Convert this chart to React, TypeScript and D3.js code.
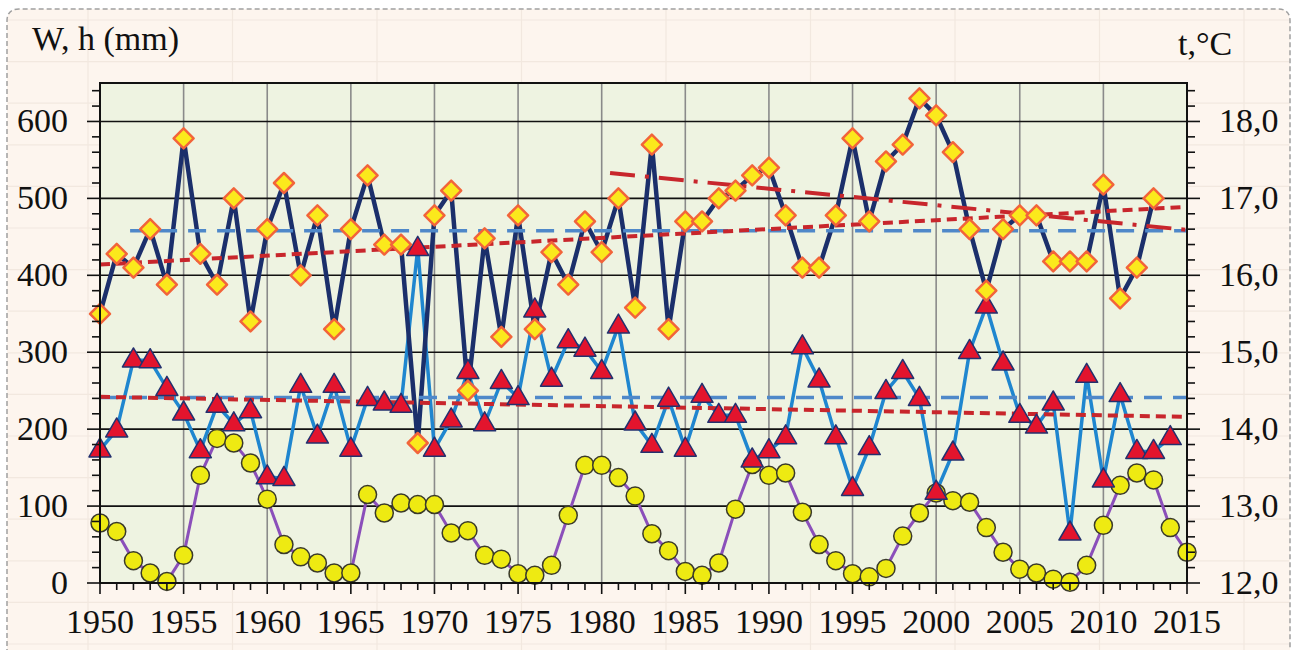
import React from "react";
import { scaleLinear, line, range } from "d3";

// years 1950..2015
const years = range(1950, 2016);

// W (mm), diamonds, 1950-2013
const wValues = [
  350, 428, 410, 460, 388, 578, 428, 388, 500, 340,
  460, 520, 400, 478, 330, 460, 530, 440, 440, 182,
  478, 510, 250, 448, 320, 478, 330, 430, 388, 470,
  430, 500, 358, 570, 330, 470, 470, 500, 510, 530,
  540, 478, 410, 410, 478, 578, 470, 548, 570, 630,
  608, 560, 460, 380, 460, 478, 478, 418, 418, 418,
  518, 370, 410, 500,
];

// h (mm), triangles, 1950-2014
const hValues = [
  173, 199, 290, 289, 253, 221, 172, 231, 207, 224,
  138, 136, 257, 191, 257, 174, 240, 234, 231, 435,
  174, 212, 275, 207, 262, 241, 355, 265, 315, 304,
  275, 334, 208, 179, 239, 174, 244, 218, 218, 160,
  172, 190, 307, 264, 190, 123, 176, 249, 275, 240,
  118, 169, 301, 360, 286, 218, 204, 234, 65, 270,
  134, 245, 171, 171, 189,
];

// t (°C), circles, 1950-2015
const tValues = [
  12.78, 12.67, 12.29, 12.13, 12.02, 12.36, 13.40, 13.88, 13.82, 13.56,
  13.09, 12.50, 12.34, 12.26, 12.13, 12.13, 13.15, 12.91, 13.04, 13.02,
  13.02, 12.65, 12.68, 12.36, 12.31, 12.12, 12.10, 12.23, 12.88, 13.53,
  13.53, 13.37, 13.13, 12.64, 12.42, 12.15, 12.10, 12.26, 12.96, 13.54,
  13.40, 13.43, 12.92, 12.50, 12.29, 12.12, 12.08, 12.19, 12.61, 12.91,
  13.17, 13.07, 13.05, 12.72, 12.40, 12.18, 12.13, 12.05, 12.01, 12.23,
  12.75, 13.27, 13.43, 13.34, 12.72, 12.40,
];

// trend / mean lines: [year, value] pairs
const wMean = [[1951.8, 458], [2015, 458]];
const wTrend = [[1950, 414], [2015, 489]];
const wTrend2 = [[1980.5, 533], [2015, 459]];
const hMean = [[1950, 241], [2015, 241]];
const hTrend = [[1950, 242], [2015, 216]];

const leftTicks = [0, 100, 200, 300, 400, 500, 600];
const rightTicks = [12, 13, 14, 15, 16, 17, 18];
const xTicks = [1950, 1955, 1960, 1965, 1970, 1975, 1980, 1985, 1990, 1995, 2000, 2005, 2010, 2015];

const W = 1293;
const H = 650;
const left = 100;
const right = 1187;
const top = 83;
const bottom = 583;

const font = "'Liberation Serif', 'Times New Roman', serif";

const App = () => {
  const x = scaleLinear().domain([1950, 2015]).range([left, right]);
  const y = scaleLinear().domain([0, 650]).range([bottom, top]);
  const yR = scaleLinear().domain([12, 18.5]).range([bottom, top]);

  const lineW = line<number>().x((_, i) => x(years[i])).y((d) => y(d));
  const lineT = line<number>().x((_, i) => x(years[i])).y((d) => yR(d));
  const seg = line<number[]>().x((d) => x(d[0])).y((d) => y(d[1]));

  // spreadsheet cell lines behind the chart
  const cellCols = range(0, 10).map((i) => 88 + i * 144.5);
  const cellRows = range(0, 16).map((i) => 20 + i * 41.6);

  const minorLeft = range(0, 660, 20);
  const minorRight = range(12, 18.5, 0.2);

  return (
    <svg
      width={W}
      height={H}
      style={{ position: "absolute", left: 0, top: 0, display: "block" }}
      fontFamily={font}
    >
      <rect width={W} height={H} fill="#ffffff" />
      <path
        d={`M7,${H + 20} V21 Q7,9 19,9 H1278 Q1290,9 1290,21 V${H + 20}`}
        fill="#fdf5ee"
        stroke="#a0a0a0"
        strokeWidth={1.5}
        strokeDasharray="5,3"
      />
      <g stroke="#f2e8df" strokeWidth={1.2}>
        {cellCols.map((cx) => (
          <line key={"c" + cx} x1={cx} x2={cx} y1={10} y2={H} />
        ))}
        {cellRows.map((cy) => (
          <line key={"r" + cy} x1={8} x2={1289} y1={cy} y2={cy} />
        ))}
      </g>

      {/* plot area */}
      <rect x={left} y={top} width={right - left} height={bottom - top} fill="#eef3e1" />
      <g stroke="#8a8a8a" strokeWidth={1.6}>
        {xTicks.slice(1, -1).map((t) => (
          <line key={t} x1={x(t)} x2={x(t)} y1={top} y2={bottom} />
        ))}
      </g>
      <g stroke="#111" strokeWidth={1.6}>
        {leftTicks.slice(1).map((t) => (
          <line key={t} x1={left} x2={right} y1={y(t)} y2={y(t)} />
        ))}
      </g>

      {/* data lines */}
      <path d={lineT(tValues) ?? ""} fill="none" stroke="#8b4fba" strokeWidth={3} />
      <path d={lineW(hValues) ?? ""} fill="none" stroke="#1f86cf" strokeWidth={3.5} />
      <path d={lineW(wValues) ?? ""} fill="none" stroke="#1b2f6b" strokeWidth={4.5} strokeLinejoin="round" />

      {/* mean and trend lines */}
      <path d={seg(wMean) ?? ""} stroke="#4f88c9" strokeWidth={3.5} strokeDasharray="18,11" fill="none" />
      <path d={seg(hMean) ?? ""} stroke="#4f88c9" strokeWidth={3.5} strokeDasharray="18,11" fill="none" />
      <path d={seg(wTrend) ?? ""} stroke="#c8262c" strokeWidth={4} strokeDasharray="10,6" fill="none" />
      <path d={seg(hTrend) ?? ""} stroke="#c8262c" strokeWidth={4} strokeDasharray="10,6" fill="none" />
      <path d={seg(wTrend2) ?? ""} stroke="#c8262c" strokeWidth={4} strokeDasharray="25,10,4,10" fill="none" />

      {/* markers */}
      {tValues.map((v, i) => (
        <circle key={"t" + i} cx={x(years[i])} cy={yR(v)} r={9} fill="#eeea12" stroke="#3a3a2a" strokeWidth={1.5} />
      ))}
      {hValues.map((v, i) => {
        const cx = x(years[i]);
        const cy = y(v);
        return (
          <path
            key={"h" + i}
            d={`M${cx},${cy - 12} L${cx + 11},${cy + 7} L${cx - 11},${cy + 7} Z`}
            fill="#e3142d"
            stroke="#23306e"
            strokeWidth={1.5}
            strokeLinejoin="round"
          />
        );
      })}
      {wValues.map((v, i) => {
        const cx = x(years[i]);
        const cy = y(v);
        return (
          <path
            key={"w" + i}
            d={`M${cx},${cy - 10} L${cx + 10},${cy} L${cx},${cy + 10} L${cx - 10},${cy} Z`}
            fill="#fbe91c"
            stroke="#f2643a"
            strokeWidth={2.5}
            strokeLinejoin="round"
          />
        );
      })}

      {/* plot frame */}
      <rect x={left} y={top} width={right - left} height={bottom - top} fill="none" stroke="#111" strokeWidth={2} />

      {/* axis ticks */}
      <g stroke="#111" strokeWidth={1.6}>
        {minorLeft.map((t) => (
          <line key={t} x1={left - (t % 100 === 0 ? 13 : 8)} x2={left} y1={y(t)} y2={y(t)} />
        ))}
        {minorRight.map((t, i) => (
          <line key={"r" + i} x1={right} x2={right + (i % 5 === 0 ? 13 : 8)} y1={yR(t)} y2={yR(t)} />
        ))}
        {years.map((yr) => (
          <line key={yr} x1={x(yr)} x2={x(yr)} y1={bottom} y2={bottom + (yr % 5 === 0 ? 11 : 7)} />
        ))}
      </g>

      {/* labels */}
      <g fontSize={34} fill="#111">
        {leftTicks.map((t) => (
          <text key={t} x={68} y={y(t) + 11} textAnchor="end">
            {t}
          </text>
        ))}
        {rightTicks.map((t) => (
          <text key={t} x={1219} y={yR(t) + 11}>
            {t.toFixed(1).replace(".", ",")}
          </text>
        ))}
        {xTicks.map((t) => (
          <text key={t} x={x(t)} y={633} textAnchor="middle">
            {t}
          </text>
        ))}
        <text x={32} y={50}>W, h (mm)</text>
        <text x={1178} y={55}>t,°C</text>
      </g>
    </svg>
  );
};

export default App;
